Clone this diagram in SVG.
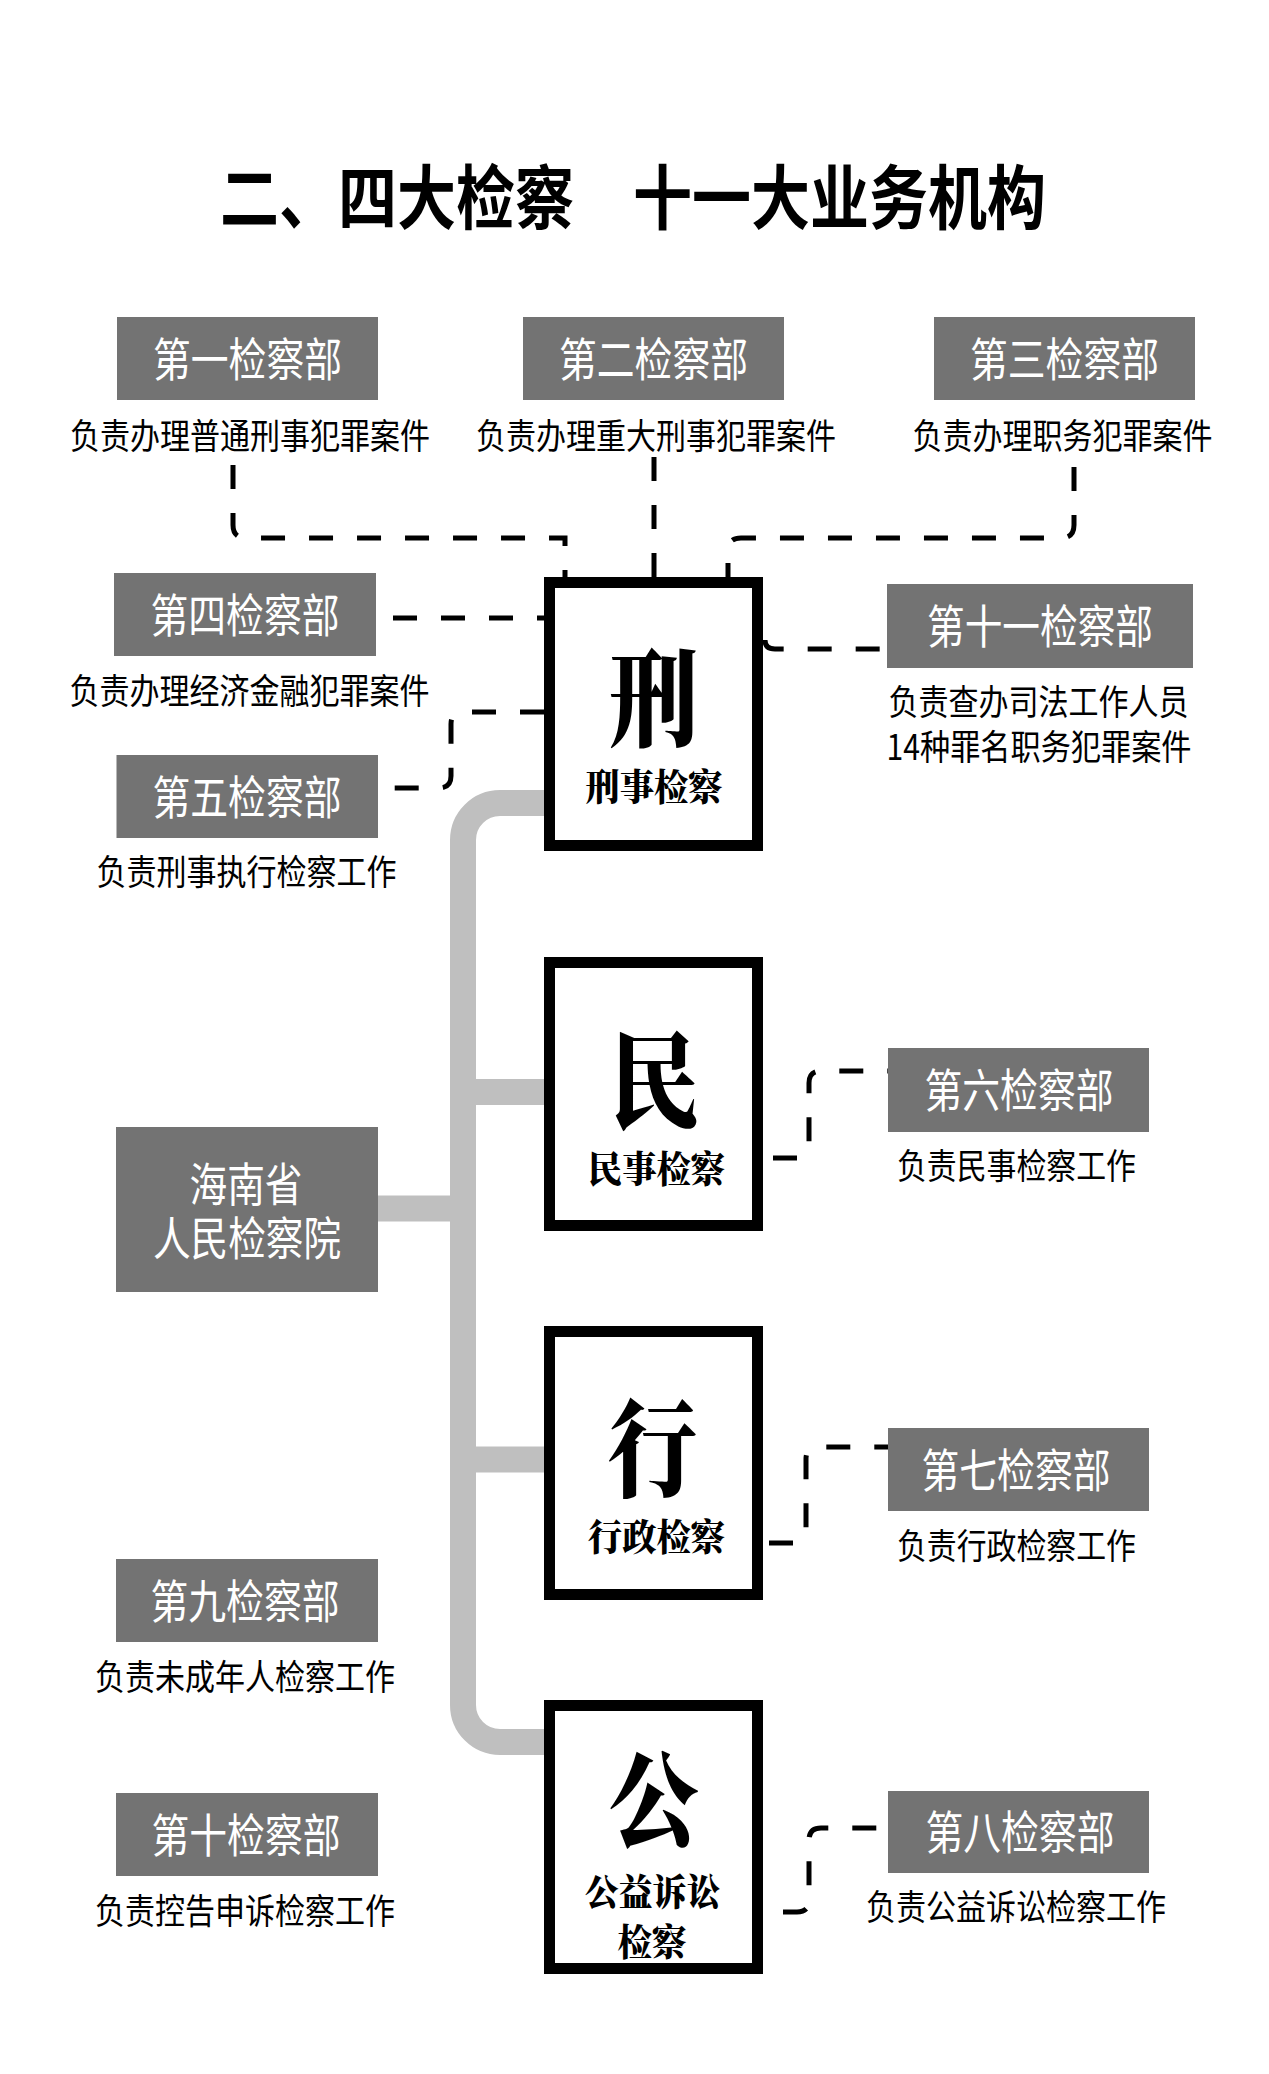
<svg xmlns="http://www.w3.org/2000/svg" width="1269" height="2074" viewBox="0 0 1269 2074">
<style>
text{font-family:"Noto Sans CJK SC","Noto Sans",sans-serif;text-anchor:middle;dominant-baseline:central}
.title{font-size:70px;font-weight:700;fill:#000}
.lbl{font-size:46px;font-weight:400;fill:#fff}
.desc{font-size:35px;font-weight:400;fill:#000}
.big{font-family:"Noto Serif CJK SC","Noto Sans CJK SC",serif;font-size:106px;font-weight:900;fill:#000}
.sub{font-family:"Noto Serif CJK SC","Noto Sans CJK SC",serif;font-size:37px;font-weight:900;fill:#000}
.gbox{fill:#737373}
.mbox{fill:#fff;stroke:#000;stroke-width:11}
.dash{fill:none;stroke:#000;stroke-width:5;stroke-dasharray:24 24}
.trunk{fill:none;stroke:#bfbfbf;stroke-width:26}
</style>
<rect width="1269" height="2074" fill="#fff"/>
<text class="title" x="633" y="193.5" textLength="826" lengthAdjust="spacingAndGlyphs">二、四大检察　十一大业务机构</text>

<g id="connectors">
<path class="trunk" d="M544,803 H500 A37,37 0 0 0 463,840 V1705 A37,37 0 0 0 500,1742 H544"/>
<path class="trunk" d="M378,1208.5 H464"/>
<path class="trunk" d="M464,1092 H544"/>
<path class="trunk" d="M464,1459.5 H544"/>
<path class="dash" d="M233,465 V525 Q233,538 246,538 H565 V577"/>
<path class="dash" d="M654,457 V577"/>
<path class="dash" d="M1074,467 V525 Q1074,538 1061,538 H741 Q728,538 728,551 V577"/>
<path class="dash" d="M393,618 H544"/>
<path class="dash" d="M544,712 H463 Q451,712 451,724 V776 Q451,788 439,788 H380"/>
<path class="dash" d="M765,640 Q765,649 775,649 H887"/>
<path class="dash" d="M773,1158 H797 Q809,1158 809,1146 V1083 Q809,1071 821,1071 H888"/>
<path class="dash" d="M769,1543 H794 Q806,1543 806,1531 V1459 Q806,1447 818,1447 H888"/>
<path class="dash" d="M783,1912 H797 Q809,1912 809,1900 V1840 Q809,1828 821,1828 H888"/>
</g>

<g id="dept1"><rect class="gbox" x="117" y="317" width="261" height="83"/><text class="lbl" x="247.5" y="355.5" textLength="189" lengthAdjust="spacingAndGlyphs">第一检察部</text><text class="desc" x="250" y="433" textLength="360" lengthAdjust="spacingAndGlyphs">负责办理普通刑事犯罪案件</text></g>
<g id="dept2"><rect class="gbox" x="523" y="317" width="261" height="83"/><text class="lbl" x="653.5" y="355.5" textLength="189" lengthAdjust="spacingAndGlyphs">第二检察部</text><text class="desc" x="656" y="433" textLength="360" lengthAdjust="spacingAndGlyphs">负责办理重大刑事犯罪案件</text></g>
<g id="dept3"><rect class="gbox" x="934" y="317" width="261" height="83"/><text class="lbl" x="1064.5" y="355.5" textLength="189" lengthAdjust="spacingAndGlyphs">第三检察部</text><text class="desc" x="1062.5" y="433" textLength="300" lengthAdjust="spacingAndGlyphs">负责办理职务犯罪案件</text></g>
<g id="dept4"><rect class="gbox" x="114" y="573" width="262" height="83"/><text class="lbl" x="245" y="611.5" textLength="189" lengthAdjust="spacingAndGlyphs">第四检察部</text><text class="desc" x="249.5" y="688" textLength="360" lengthAdjust="spacingAndGlyphs">负责办理经济金融犯罪案件</text></g>
<g id="dept5"><rect class="gbox" x="116.5" y="755" width="261.5" height="83"/><text class="lbl" x="247" y="793.5" textLength="189" lengthAdjust="spacingAndGlyphs">第五检察部</text><text class="desc" x="246.5" y="869.5" textLength="300" lengthAdjust="spacingAndGlyphs">负责刑事执行检察工作</text></g>
<g id="dept11"><rect class="gbox" x="887" y="584" width="306" height="84"/><text class="lbl" x="1040" y="623" textLength="226" lengthAdjust="spacingAndGlyphs">第十一检察部</text><text class="desc" x="1038.5" y="699.5" textLength="300" lengthAdjust="spacingAndGlyphs">负责查办司法工作人员</text><text class="desc" x="1039" y="744.5" textLength="305" lengthAdjust="spacingAndGlyphs">14种罪名职务犯罪案件</text></g>
<g id="dept6"><rect class="gbox" x="888" y="1048" width="261" height="84"/><text class="lbl" x="1019" y="1087" textLength="189" lengthAdjust="spacingAndGlyphs">第六检察部</text><text class="desc" x="1016.5" y="1163" textLength="239" lengthAdjust="spacingAndGlyphs">负责民事检察工作</text></g>
<g id="dept7"><rect class="gbox" x="888" y="1428" width="261" height="83"/><text class="lbl" x="1016" y="1466.5" textLength="189" lengthAdjust="spacingAndGlyphs">第七检察部</text><text class="desc" x="1016.5" y="1543" textLength="239" lengthAdjust="spacingAndGlyphs">负责行政检察工作</text></g>
<g id="dept8"><rect class="gbox" x="888" y="1791" width="261" height="82"/><text class="lbl" x="1020" y="1829" textLength="189" lengthAdjust="spacingAndGlyphs">第八检察部</text><text class="desc" x="1016" y="1904.5" textLength="300" lengthAdjust="spacingAndGlyphs">负责公益诉讼检察工作</text></g>
<g id="dept9"><rect class="gbox" x="116" y="1559" width="262" height="83"/><text class="lbl" x="245" y="1597.5" textLength="189" lengthAdjust="spacingAndGlyphs">第九检察部</text><text class="desc" x="245" y="1674.5" textLength="300" lengthAdjust="spacingAndGlyphs">负责未成年人检察工作</text></g>
<g id="dept10"><rect class="gbox" x="116" y="1793" width="262" height="83"/><text class="lbl" x="246" y="1831.5" textLength="189" lengthAdjust="spacingAndGlyphs">第十检察部</text><text class="desc" x="245" y="1908" textLength="300" lengthAdjust="spacingAndGlyphs">负责控告申诉检察工作</text></g>
<g id="hainan"><rect class="gbox" x="116" y="1127" width="262" height="165"/><text class="lbl" x="246" y="1180.5" textLength="113" lengthAdjust="spacingAndGlyphs">海南省</text><text class="lbl" x="247" y="1234.5" textLength="188" lengthAdjust="spacingAndGlyphs">人民检察院</text></g>

<g id="xing"><rect class="mbox" x="549.5" y="582.5" width="208" height="263"/><text class="big" x="654" y="691.5" textLength="90" lengthAdjust="spacingAndGlyphs">刑</text><text class="sub" x="654" y="785" textLength="137" lengthAdjust="spacingAndGlyphs">刑事检察</text></g>
<g id="min"><rect class="mbox" x="549.5" y="962.5" width="208" height="263"/><text class="big" x="655" y="1073.5" textLength="90" lengthAdjust="spacingAndGlyphs">民</text><text class="sub" x="656.5" y="1166.5" textLength="137" lengthAdjust="spacingAndGlyphs">民事检察</text></g>
<g id="xingzheng"><rect class="mbox" x="549.5" y="1331.5" width="208" height="263"/><text class="big" x="653" y="1441.5" textLength="90" lengthAdjust="spacingAndGlyphs">行</text><text class="sub" x="656.5" y="1534.5" textLength="137" lengthAdjust="spacingAndGlyphs">行政检察</text></g>
<g id="gong"><rect class="mbox" x="549.5" y="1705.5" width="208" height="263"/><text class="big" x="654" y="1792.5" textLength="90" lengthAdjust="spacingAndGlyphs">公</text><text class="sub" x="652.5" y="1890" textLength="135" lengthAdjust="spacingAndGlyphs">公益诉讼</text><text class="sub" x="652" y="1940" textLength="69" lengthAdjust="spacingAndGlyphs">检察</text></g>
</svg>
